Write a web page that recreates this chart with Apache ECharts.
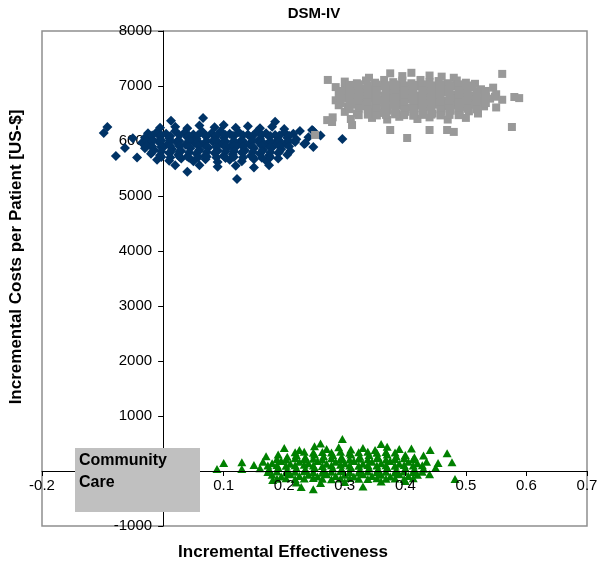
<!DOCTYPE html>
<html>
<head>
<meta charset="utf-8">
<script src="https://cdn.jsdelivr.net/npm/echarts@6/dist/echarts.min.js"></script>
<style>
	html, body { margin: 0; padding: 0; background: #fff; }
	#chart { width: 597px; height: 562px; }
</style>
</head>
<body>
<div id="chart"></div>
<script>
const FONT = '"Liberation Sans", Arial, sans-serif';

// incremental effectiveness / incremental cost pairs
const navyDiamonds = [
	[ -0.005, 6240 ], [ 0.013, 6370 ], [ 0.02, 6260 ], [ 0.04, 6230 ], [ 0.066, 6420 ], [ 0.06, 6280 ], [ 0.085, 6250 ],
	[ 0.10, 6290 ], [ 0.12, 6240 ], [ 0.14, 6270 ], [ 0.16, 6230 ], [ 0.185, 6350 ], [ 0.18, 6260 ], [ 0.20, 6220 ],
	[ -0.025, 6140 ], [ -0.01, 6170 ], [ 0.005, 6130 ], [ 0.02, 6180 ], [ 0.035, 6150 ], [ 0.05, 6120 ], [ 0.065, 6170 ],
	[ 0.08, 6140 ], [ 0.095, 6180 ], [ 0.11, 6130 ], [ 0.125, 6160 ], [ 0.14, 6120 ], [ 0.155, 6175 ], [ 0.17, 6140 ],
	[ 0.185, 6110 ], [ 0.20, 6160 ], [ 0.215, 6130 ], [ 0.226, 6180 ],
	[ -0.03, 6060 ], [ -0.018, 6030 ], [ -0.005, 6080 ], [ 0.01, 6050 ], [ 0.025, 6010 ], [ 0.04, 6070 ], [ 0.055, 6040 ],
	[ 0.07, 6090 ], [ 0.085, 6030 ], [ 0.10, 6060 ], [ 0.115, 6090 ], [ 0.13, 6020 ], [ 0.145, 6070 ], [ 0.16, 6040 ],
	[ 0.175, 6080 ], [ 0.19, 6020 ], [ 0.205, 6060 ], [ 0.22, 6030 ],
	[ -0.035, 5970 ], [ -0.022, 5940 ], [ -0.008, 5990 ], [ 0.008, 5950 ], [ 0.022, 5980 ], [ 0.037, 5930 ], [ 0.052, 5970 ],
	[ 0.067, 5940 ], [ 0.082, 5990 ], [ 0.097, 5950 ], [ 0.112, 5920 ], [ 0.127, 5980 ], [ 0.142, 5940 ], [ 0.157, 5990 ],
	[ 0.172, 5930 ], [ 0.187, 5970 ], [ 0.202, 5950 ], [ 0.218, 5980 ], [ 0.233, 5945 ],
	[ -0.03, 5870 ], [ -0.015, 5840 ], [ 0.0, 5880 ], [ 0.015, 5850 ], [ 0.03, 5820 ], [ 0.045, 5870 ], [ 0.06, 5840 ],
	[ 0.075, 5880 ], [ 0.09, 5830 ], [ 0.105, 5860 ], [ 0.12, 5890 ], [ 0.135, 5830 ], [ 0.15, 5870 ], [ 0.165, 5840 ],
	[ 0.18, 5880 ], [ 0.195, 5850 ], [ 0.21, 5820 ], [ 0.248, 5890 ],
	[ -0.02, 5770 ], [ -0.005, 5740 ], [ 0.01, 5780 ], [ 0.025, 5750 ], [ 0.04, 5720 ], [ 0.055, 5770 ], [ 0.07, 5740 ],
	[ 0.085, 5780 ], [ 0.10, 5730 ], [ 0.115, 5760 ], [ 0.13, 5790 ], [ 0.145, 5730 ], [ 0.16, 5770 ], [ 0.175, 5740 ],
	[ 0.19, 5780 ], [ 0.205, 5750 ],
	[ -0.01, 5660 ], [ 0.01, 5640 ], [ 0.03, 5680 ], [ 0.05, 5630 ], [ 0.07, 5670 ], [ 0.09, 5620 ], [ 0.11, 5660 ],
	[ 0.13, 5630 ], [ 0.15, 5670 ], [ 0.17, 5640 ], [ 0.19, 5680 ],
	[ 0.02, 5560 ], [ 0.04, 5440 ], [ 0.06, 5560 ], [ 0.09, 5530 ], [ 0.12, 5550 ], [ 0.122, 5310 ], [ 0.15, 5520 ], [ 0.175, 5560 ],
	[ -0.098, 6145 ], [ -0.092, 6255 ], [ -0.078, 5727 ], [ -0.063, 5873 ], [ -0.043, 5700 ], [ -0.05, 6050 ],
	[ 0.246, 6200 ], [ 0.248, 6180 ], [ 0.235, 5960 ], [ 0.24, 6070 ], [ 0.26, 6100 ], [ 0.296, 6036 ],
	// denser core
	[ -0.018, 6100 ], [ -0.003, 6110 ], [ 0.012, 6090 ], [ 0.027, 6105 ], [ 0.043, 6095 ], [ 0.058, 6115 ], [ 0.072, 6085 ],
	[ 0.088, 6100 ], [ 0.103, 6110 ], [ 0.117, 6090 ], [ 0.132, 6105 ], [ 0.148, 6095 ], [ 0.163, 6110 ], [ 0.177, 6090 ],
	[ 0.192, 6100 ], [ 0.208, 6095 ],
	[ -0.028, 6000 ], [ -0.018, 5990 ], [ -0.003, 6010 ], [ 0.012, 6005 ], [ 0.027, 5995 ], [ 0.043, 6015 ], [ 0.058, 5985 ],
	[ 0.072, 6000 ], [ 0.088, 6010 ], [ 0.103, 5990 ], [ 0.117, 6005 ], [ 0.132, 5995 ], [ 0.148, 6010 ], [ 0.163, 5990 ],
	[ 0.177, 6000 ], [ 0.192, 6005 ], [ 0.208, 5995 ],
	[ -0.028, 5910 ], [ -0.018, 5900 ], [ -0.003, 5890 ], [ 0.012, 5910 ], [ 0.027, 5905 ], [ 0.043, 5895 ], [ 0.058, 5915 ],
	[ 0.072, 5900 ], [ 0.088, 5890 ], [ 0.103, 5905 ], [ 0.117, 5910 ], [ 0.132, 5895 ], [ 0.148, 5900 ], [ 0.163, 5915 ],
	[ 0.177, 5890 ], [ 0.192, 5905 ], [ 0.208, 5900 ],
	[ -0.018, 5800 ], [ -0.003, 5810 ], [ 0.012, 5795 ], [ 0.027, 5805 ], [ 0.043, 5790 ], [ 0.058, 5810 ], [ 0.072, 5800 ],
	[ 0.088, 5795 ], [ 0.103, 5805 ], [ 0.117, 5815 ], [ 0.132, 5790 ], [ 0.148, 5800 ], [ 0.163, 5810 ], [ 0.177, 5795 ],
	[ 0.192, 5805 ],
	[ -0.003, 5710 ], [ 0.012, 5700 ], [ 0.027, 5715 ], [ 0.043, 5695 ], [ 0.058, 5705 ], [ 0.072, 5715 ], [ 0.088, 5700 ],
	[ 0.103, 5690 ], [ 0.117, 5710 ], [ 0.132, 5700 ], [ 0.148, 5715 ], [ 0.163, 5695 ], [ 0.177, 5705 ]
];

const greySquares = [
	[ 0.375, 7230 ], [ 0.395, 7180 ], [ 0.41, 7240 ], [ 0.44, 7190 ], [ 0.46, 7170 ], [ 0.34, 7150 ], [ 0.56, 7220 ], [ 0.48, 7150 ],
	[ 0.30, 7080 ], [ 0.32, 7050 ], [ 0.335, 7100 ], [ 0.35, 7060 ], [ 0.365, 7110 ], [ 0.38, 7070 ], [ 0.395, 7100 ],
	[ 0.41, 7050 ], [ 0.425, 7110 ], [ 0.44, 7070 ], [ 0.455, 7090 ], [ 0.47, 7050 ], [ 0.485, 7100 ], [ 0.50, 7060 ],
	[ 0.515, 7040 ], [ 0.272, 7110 ],
	[ 0.285, 6980 ], [ 0.30, 6950 ], [ 0.315, 6990 ], [ 0.33, 6960 ], [ 0.345, 6940 ], [ 0.36, 6990 ], [ 0.375, 6950 ],
	[ 0.39, 6980 ], [ 0.405, 6940 ], [ 0.42, 6990 ], [ 0.435, 6950 ], [ 0.45, 6980 ], [ 0.465, 6940 ], [ 0.48, 6990 ],
	[ 0.495, 6950 ], [ 0.51, 6980 ], [ 0.525, 6940 ], [ 0.545, 6970 ],
	[ 0.29, 6860 ], [ 0.305, 6830 ], [ 0.32, 6870 ], [ 0.335, 6840 ], [ 0.35, 6880 ], [ 0.365, 6830 ], [ 0.38, 6870 ],
	[ 0.395, 6850 ], [ 0.41, 6880 ], [ 0.425, 6830 ], [ 0.44, 6870 ], [ 0.455, 6840 ], [ 0.47, 6880 ], [ 0.485, 6840 ],
	[ 0.50, 6870 ], [ 0.515, 6830 ], [ 0.53, 6870 ], [ 0.55, 6850 ], [ 0.58, 6800 ],
	[ 0.285, 6740 ], [ 0.30, 6770 ], [ 0.315, 6730 ], [ 0.33, 6760 ], [ 0.345, 6780 ], [ 0.36, 6740 ], [ 0.375, 6770 ],
	[ 0.39, 6730 ], [ 0.405, 6760 ], [ 0.42, 6780 ], [ 0.435, 6740 ], [ 0.45, 6760 ], [ 0.465, 6730 ], [ 0.48, 6770 ],
	[ 0.495, 6740 ], [ 0.51, 6760 ], [ 0.525, 6730 ], [ 0.54, 6770 ], [ 0.56, 6750 ], [ 0.588, 6780 ],
	[ 0.29, 6650 ], [ 0.305, 6620 ], [ 0.32, 6660 ], [ 0.335, 6630 ], [ 0.35, 6650 ], [ 0.365, 6620 ], [ 0.38, 6660 ],
	[ 0.395, 6640 ], [ 0.41, 6610 ], [ 0.425, 6650 ], [ 0.44, 6620 ], [ 0.455, 6660 ], [ 0.47, 6630 ], [ 0.485, 6650 ],
	[ 0.50, 6620 ], [ 0.515, 6660 ], [ 0.53, 6630 ], [ 0.55, 6610 ],
	[ 0.30, 6530 ], [ 0.32, 6500 ], [ 0.34, 6540 ], [ 0.355, 6510 ], [ 0.37, 6550 ], [ 0.385, 6500 ], [ 0.40, 6530 ],
	[ 0.415, 6510 ], [ 0.43, 6540 ], [ 0.445, 6500 ], [ 0.46, 6530 ], [ 0.475, 6550 ], [ 0.49, 6510 ], [ 0.505, 6540 ], [ 0.52, 6500 ],
	[ 0.28, 6430 ], [ 0.31, 6400 ], [ 0.345, 6420 ], [ 0.37, 6390 ], [ 0.39, 6440 ], [ 0.42, 6400 ], [ 0.44, 6430 ],
	[ 0.47, 6390 ], [ 0.50, 6420 ],
	[ 0.271, 6380 ], [ 0.251, 6110 ], [ 0.279, 6345 ], [ 0.312, 6290 ], [ 0.375, 6200 ], [ 0.403, 6055 ],
	[ 0.44, 6200 ], [ 0.469, 6200 ], [ 0.48, 6165 ], [ 0.576, 6255 ],
	// denser core
	[ 0.308, 7020 ], [ 0.323, 7030 ], [ 0.338, 7010 ], [ 0.353, 7025 ], [ 0.368, 7015 ], [ 0.383, 7030 ], [ 0.398, 7010 ],
	[ 0.413, 7020 ], [ 0.428, 7030 ], [ 0.443, 7010 ], [ 0.458, 7025 ], [ 0.473, 7015 ], [ 0.488, 7030 ], [ 0.503, 7010 ],
	[ 0.293, 6910 ], [ 0.308, 6900 ], [ 0.323, 6920 ], [ 0.338, 6905 ], [ 0.353, 6915 ], [ 0.368, 6900 ], [ 0.383, 6920 ],
	[ 0.398, 6910 ], [ 0.413, 6900 ], [ 0.428, 6915 ], [ 0.443, 6905 ], [ 0.458, 6920 ], [ 0.473, 6900 ], [ 0.488, 6910 ],
	[ 0.503, 6920 ], [ 0.518, 6905 ], [ 0.533, 6910 ],
	[ 0.293, 6800 ], [ 0.308, 6810 ], [ 0.323, 6795 ], [ 0.338, 6805 ], [ 0.353, 6815 ], [ 0.368, 6800 ], [ 0.383, 6790 ],
	[ 0.398, 6805 ], [ 0.413, 6815 ], [ 0.428, 6800 ], [ 0.443, 6795 ], [ 0.458, 6810 ], [ 0.473, 6800 ], [ 0.488, 6805 ],
	[ 0.503, 6795 ], [ 0.518, 6810 ], [ 0.533, 6800 ], [ 0.548, 6805 ],
	[ 0.293, 6690 ], [ 0.308, 6700 ], [ 0.323, 6685 ], [ 0.338, 6695 ], [ 0.353, 6705 ], [ 0.368, 6690 ], [ 0.383, 6680 ],
	[ 0.398, 6695 ], [ 0.413, 6705 ], [ 0.428, 6690 ], [ 0.443, 6685 ], [ 0.458, 6700 ], [ 0.473, 6690 ], [ 0.488, 6695 ],
	[ 0.503, 6685 ], [ 0.518, 6700 ], [ 0.533, 6690 ],
	[ 0.308, 6580 ], [ 0.323, 6590 ], [ 0.338, 6575 ], [ 0.353, 6585 ], [ 0.368, 6595 ], [ 0.383, 6580 ], [ 0.398, 6570 ],
	[ 0.413, 6585 ], [ 0.428, 6595 ], [ 0.443, 6580 ], [ 0.458, 6575 ], [ 0.473, 6590 ], [ 0.488, 6580 ], [ 0.503, 6585 ],
	[ 0.518, 6575 ],
	[ 0.323, 6470 ], [ 0.338, 6480 ], [ 0.353, 6465 ], [ 0.368, 6475 ], [ 0.383, 6485 ], [ 0.398, 6470 ], [ 0.413, 6460 ],
	[ 0.428, 6475 ], [ 0.443, 6480 ], [ 0.458, 6465 ], [ 0.473, 6475 ], [ 0.488, 6470 ]
];

const greenTriangles = [
	[ 0.20, 420 ], [ 0.225, 380 ], [ 0.25, 450 ], [ 0.27, 400 ], [ 0.29, 430 ], [ 0.31, 390 ], [ 0.33, 420 ], [ 0.35, 380 ],
	[ 0.37, 440 ], [ 0.39, 400 ], [ 0.296, 580 ], [ 0.26, 500 ], [ 0.36, 490 ], [ 0.41, 410 ],
	[ 0.17, 270 ], [ 0.19, 300 ], [ 0.205, 260 ], [ 0.22, 290 ], [ 0.235, 250 ], [ 0.25, 300 ], [ 0.265, 270 ], [ 0.28, 290 ],
	[ 0.295, 250 ], [ 0.31, 300 ], [ 0.325, 260 ], [ 0.34, 290 ], [ 0.355, 250 ], [ 0.37, 300 ], [ 0.385, 270 ], [ 0.40, 290 ],
	[ 0.415, 250 ], [ 0.43, 280 ],
	[ 0.13, 160 ], [ 0.15, 110 ], [ 0.165, 170 ], [ 0.18, 140 ], [ 0.195, 180 ], [ 0.21, 130 ], [ 0.225, 170 ], [ 0.24, 140 ],
	[ 0.255, 180 ], [ 0.27, 130 ], [ 0.285, 170 ], [ 0.30, 140 ], [ 0.315, 180 ], [ 0.33, 130 ], [ 0.345, 170 ], [ 0.36, 140 ],
	[ 0.375, 180 ], [ 0.39, 130 ], [ 0.405, 170 ], [ 0.42, 140 ], [ 0.435, 170 ], [ 0.454, 145 ], [ 0.477, 160 ],
	[ 0.441, 380 ], [ 0.469, 325 ],
	[ 0.089, 35 ], [ 0.10, 145 ], [ 0.13, 35 ], [ 0.16, 50 ], [ 0.175, 30 ], [ 0.19, 60 ], [ 0.205, 20 ], [ 0.22, 50 ],
	[ 0.235, 30 ], [ 0.25, 60 ], [ 0.265, 20 ], [ 0.28, 50 ], [ 0.295, 30 ], [ 0.31, 60 ], [ 0.325, 20 ], [ 0.34, 50 ],
	[ 0.355, 30 ], [ 0.37, 60 ], [ 0.385, 20 ], [ 0.40, 50 ], [ 0.415, 30 ], [ 0.43, 40 ], [ 0.45, 60 ],
	[ 0.18, -70 ], [ 0.195, -100 ], [ 0.21, -60 ], [ 0.225, -90 ], [ 0.24, -70 ], [ 0.255, -100 ], [ 0.27, -60 ], [ 0.285, -90 ],
	[ 0.30, -70 ], [ 0.315, -100 ], [ 0.33, -60 ], [ 0.345, -90 ], [ 0.36, -70 ], [ 0.375, -100 ], [ 0.39, -60 ], [ 0.405, -90 ],
	[ 0.42, -70 ], [ 0.44, -60 ],
	[ 0.181, -165 ], [ 0.22, -210 ], [ 0.26, -220 ], [ 0.30, -200 ], [ 0.36, -190 ], [ 0.40, -180 ], [ 0.482, -145 ],
	[ 0.228, -290 ], [ 0.248, -330 ], [ 0.33, -280 ],
	// denser core
	[ 0.218, 340 ], [ 0.233, 350 ], [ 0.248, 330 ], [ 0.263, 345 ], [ 0.278, 335 ], [ 0.293, 350 ], [ 0.308, 330 ],
	[ 0.323, 340 ], [ 0.338, 350 ], [ 0.353, 330 ], [ 0.368, 345 ], [ 0.383, 335 ],
	[ 0.188, 220 ], [ 0.203, 210 ], [ 0.218, 230 ], [ 0.233, 215 ], [ 0.248, 225 ], [ 0.263, 210 ], [ 0.278, 230 ],
	[ 0.293, 220 ], [ 0.308, 210 ], [ 0.323, 225 ], [ 0.338, 215 ], [ 0.353, 230 ], [ 0.368, 210 ], [ 0.383, 220 ],
	[ 0.398, 230 ], [ 0.413, 215 ],
	[ 0.173, 100 ], [ 0.188, 110 ], [ 0.203, 95 ], [ 0.218, 105 ], [ 0.233, 115 ], [ 0.248, 100 ], [ 0.263, 90 ],
	[ 0.278, 105 ], [ 0.293, 115 ], [ 0.308, 100 ], [ 0.323, 95 ], [ 0.338, 110 ], [ 0.353, 100 ], [ 0.368, 105 ],
	[ 0.383, 95 ], [ 0.398, 110 ], [ 0.413, 100 ], [ 0.428, 105 ],
	[ 0.173, -20 ], [ 0.188, -10 ], [ 0.203, -25 ], [ 0.218, -15 ], [ 0.233, -5 ], [ 0.248, -20 ], [ 0.263, -30 ],
	[ 0.278, -15 ], [ 0.293, -5 ], [ 0.308, -20 ], [ 0.323, -25 ], [ 0.338, -10 ], [ 0.353, -20 ], [ 0.368, -15 ],
	[ 0.383, -25 ], [ 0.398, -10 ], [ 0.413, -20 ], [ 0.428, -15 ],
	[ 0.188, -140 ], [ 0.203, -130 ], [ 0.218, -145 ], [ 0.233, -135 ], [ 0.248, -125 ], [ 0.263, -140 ], [ 0.278, -150 ],
	[ 0.293, -135 ], [ 0.308, -125 ], [ 0.323, -140 ], [ 0.338, -145 ], [ 0.353, -130 ], [ 0.368, -140 ], [ 0.383, -135 ],
	[ 0.398, -145 ], [ 0.413, -130 ]
];

const xRange = [ -0.2, 0.7, 0.1 ];
const yRange = [ -1000, 8000, 1000 ];

const GRID = { left: 42, top: 31, width: 545, height: 495 };

const chart = echarts.init( document.getElementById( 'chart' ), null, { renderer: 'canvas' } );

const valueAxis = ( range ) => ( {
	type: 'value',
	min: range[ 0 ],
	max: range[ 1 ],
	interval: range[ 2 ],
	splitLine: { show: false },
	axisLine: { show: true, onZero: false, lineStyle: { color: '#000', width: 1 } },
	axisTick: { show: true, length: 5, lineStyle: { color: '#000' } },
	axisLabel: { color: '#000', fontSize: 15, fontFamily: FONT }
} );

// axes cross at zero: shift them in from the grid edges
const xAxis = valueAxis( xRange );
xAxis.position = 'bottom';
xAxis.offset = -GRID.height * ( 0 - yRange[ 0 ] ) / ( yRange[ 1 ] - yRange[ 0 ] );
xAxis.z = 3; // keep tick labels readable under the green cloud
xAxis.axisLabel.margin = 7;
xAxis.axisLabel.formatter = ( v ) => String( Math.round( v * 10 ) / 10 );

const yAxis = valueAxis( yRange );
yAxis.position = 'left';
yAxis.offset = -GRID.width * ( 0 - xRange[ 0 ] ) / ( xRange[ 1 ] - xRange[ 0 ] );
yAxis.axisLabel.margin = 11;
yAxis.axisLabel.formatter = ( v ) => String( v );

const bold = ( size ) => ( { fontFamily: FONT, fontWeight: 'bold', fontSize: size, fill: '#000' } );

chart.setOption( {
	animation: false,
	backgroundColor: '#fff',
	grid: Object.assign( {
		show: true, borderColor: '#8f8f8f', borderWidth: 1.5, backgroundColor: 'transparent',
		containLabel: false, outerBoundsMode: 'none'
	}, GRID ),
	xAxis,
	yAxis,
	series: [
		{
			type: 'scatter', data: navyDiamonds, symbol: 'diamond', symbolSize: 10,
			itemStyle: { color: '#003366', opacity: 1 }
		},
		{
			type: 'scatter', data: greySquares, symbol: 'rect', symbolSize: 8,
			itemStyle: { color: '#999999', opacity: 1 }
		},
		{
			type: 'scatter', data: greenTriangles, symbol: 'triangle', symbolSize: [ 9, 8 ],
			itemStyle: { color: '#008000', opacity: 1 }
		}
	],
	graphic: [
		{
			type: 'text', x: 314, y: 14, z: 100,
			style: Object.assign( bold( 15 ), { text: 'DSM-IV', align: 'center', verticalAlign: 'middle' } )
		},
		{
			type: 'text', x: 283, y: 552, z: 100,
			style: Object.assign( bold( 17 ), { text: 'Incremental Effectiveness', align: 'center', verticalAlign: 'middle' } )
		},
		{
			type: 'text', x: 16, y: 257, rotation: Math.PI / 2, z: 100,
			style: Object.assign( bold( 17 ), { text: 'Incremental Costs per Patient [US-$]', align: 'center', verticalAlign: 'middle' } )
		},
		{
			type: 'rect', z: 100,
			shape: { x: 75, y: 448, width: 125, height: 64 },
			style: { fill: '#c0c0c0' }
		},
		{
			type: 'text', x: 79, y: 450, z: 101,
			style: Object.assign( bold( 16 ), { text: 'Community\nCare', lineHeight: 22 } )
		}
	]
} );
</script>
</body>
</html>
